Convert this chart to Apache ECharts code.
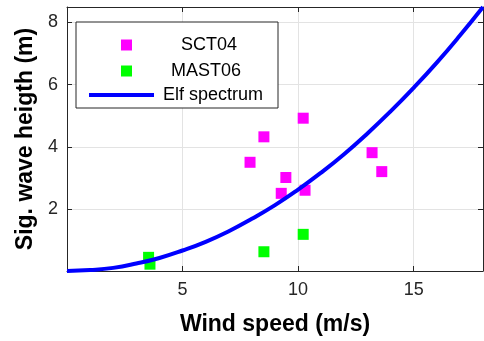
<!DOCTYPE html>
<html>
<head>
<meta charset="utf-8">
<script src="https://cdn.jsdelivr.net/npm/echarts@6/dist/echarts.min.js"></script>
<style>
  html, body { margin: 0; padding: 0; background: #fff; }
  #chart { width: 484px; height: 341px; }
</style>
</head>
<body>
<div id="chart"></div>
<script>
// SCT04 buoy observations
const sctWind = [7.92, 8.52, 10.22, 9.47, 9.27, 10.30, 13.20, 13.62];
const sctHs = [3.50, 4.32, 4.92, 3.01, 2.50, 2.60, 3.81, 3.20];

// MAST06 observations
const mastWind = [3.53, 3.59, 8.52, 10.22];
const mastHs = [0.44, 0.22, 0.62, 1.18];

// Elf spectrum curve at each m/s
const elfWind = [0, 1, 2, 3, 4, 5, 6, 7, 8, 9, 10, 11, 12, 13, 14, 15, 16, 17, 18];
const elfHs = [0, 0.03, 0.10, 0.24, 0.42, 0.66, 0.94, 1.28, 1.68, 2.12, 2.62, 3.17, 3.77, 4.43, 5.14, 5.90, 6.71, 7.58, 8.5];

const axisColor = "#262626";
const font = "'Liberation Sans', Arial, sans-serif";

const chart = echarts.init(document.getElementById("chart"), null, { renderer: "canvas" });

const zip = (xs, ys) => xs.map((x, i) => [x, ys[i]]);

const legendBase = {
  orient: "vertical",
  selectedMode: false,
  z: 6,
  textStyle: { fontFamily: font, fontSize: 18, color: "#000" },
};

// box axes: ticks point inward, no labels on top/right
const boxLine = { show: true, onZero: false, lineStyle: { color: axisColor, width: 1 } };
const boxTick = { show: true, inside: true, length: 5, lineStyle: { color: axisColor } };

const option = {
  backgroundColor: "#fff",
  animation: false,
  grid: { left: 67, right: 1, top: 7, bottom: 70 },
  graphic: [
    {
      type: "rect",
      z: 5,
      shape: { x: 76, y: 22, width: 202, height: 86 },
      style: { fill: "#fff", stroke: axisColor, lineWidth: 1 },
    },
  ],
  legend: [
    Object.assign({}, legendBase, {
      data: ["SCT04"],
      left: 116,
      top: 31,
      itemWidth: 11,
      itemHeight: 11,
      itemStyle: { opacity: 1 },
      textStyle: Object.assign({}, legendBase.textStyle, { padding: [0, 0, 0, 44] }),
    }),
    Object.assign({}, legendBase, {
      data: ["MAST06"],
      left: 116,
      top: 57,
      itemWidth: 11,
      itemHeight: 11,
      itemStyle: { opacity: 1 },
      textStyle: Object.assign({}, legendBase.textStyle, { padding: [0, 0, 0, 34] }),
    }),
    Object.assign({}, legendBase, {
      data: [{ name: "Elf spectrum", icon: "rect" }],
      left: 84,
      top: 81,
      itemWidth: 65,
      itemHeight: 4,
      itemStyle: { color: "#0000ff" },
      textStyle: Object.assign({}, legendBase.textStyle, { padding: [0, 0, 0, 4] }),
    }),
  ],
  xAxis: [
    {
      type: "value",
      min: 0,
      max: 18,
      interval: 5,
      name: "Wind speed (m/s)",
      nameLocation: "middle",
      nameGap: 42,
      nameTextStyle: { fontFamily: font, fontSize: 23, fontWeight: "bold", color: "#000" },
      axisLine: boxLine,
      axisTick: boxTick,
      axisLabel: {
        fontFamily: font, fontSize: 18, color: axisColor, margin: 10,
        showMinLabel: false, showMaxLabel: false,
      },
      splitLine: { show: true, lineStyle: { color: "#e3e3e3", width: 1 } },
    },
    {
      type: "value",
      position: "top",
      min: 0,
      max: 18,
      interval: 5,
      axisLine: boxLine,
      axisTick: boxTick,
      axisLabel: { show: false },
      splitLine: { show: false },
    },
  ],
  yAxis: [
    {
      type: "value",
      min: 0,
      max: 8.5,
      interval: 2,
      name: "Sig. wave heigth (m)",
      nameLocation: "middle",
      nameGap: 28,
      nameTextStyle: { fontFamily: font, fontSize: 23, fontWeight: "bold", color: "#000" },
      axisLine: boxLine,
      axisTick: boxTick,
      axisLabel: {
        fontFamily: font, fontSize: 18, color: axisColor, margin: 9,
        showMinLabel: false, showMaxLabel: false,
      },
      splitLine: { show: true, lineStyle: { color: "#e3e3e3", width: 1 } },
    },
    {
      type: "value",
      position: "right",
      min: 0,
      max: 8.5,
      interval: 2,
      axisLine: boxLine,
      axisTick: boxTick,
      axisLabel: { show: false },
      splitLine: { show: false },
    },
  ],
  series: [
    {
      name: "SCT04",
      type: "scatter",
      symbol: "rect",
      symbolSize: 11,
      itemStyle: { color: "#ff00ff", opacity: 1 },
      data: zip(sctWind, sctHs),
      z: 3,
    },
    {
      name: "MAST06",
      type: "scatter",
      symbol: "rect",
      symbolSize: 11,
      itemStyle: { color: "#00ff00", opacity: 1 },
      data: zip(mastWind, mastHs),
      z: 3,
    },
    {
      name: "Elf spectrum",
      type: "line",
      smooth: true,
      symbol: "none",
      clip: false,
      lineStyle: { color: "#0000ff", width: 4 },
      itemStyle: { color: "#0000ff" },
      data: zip(elfWind, elfHs),
      z: 4,
    },
  ],
};

chart.setOption(option);
</script>
</body>
</html>
